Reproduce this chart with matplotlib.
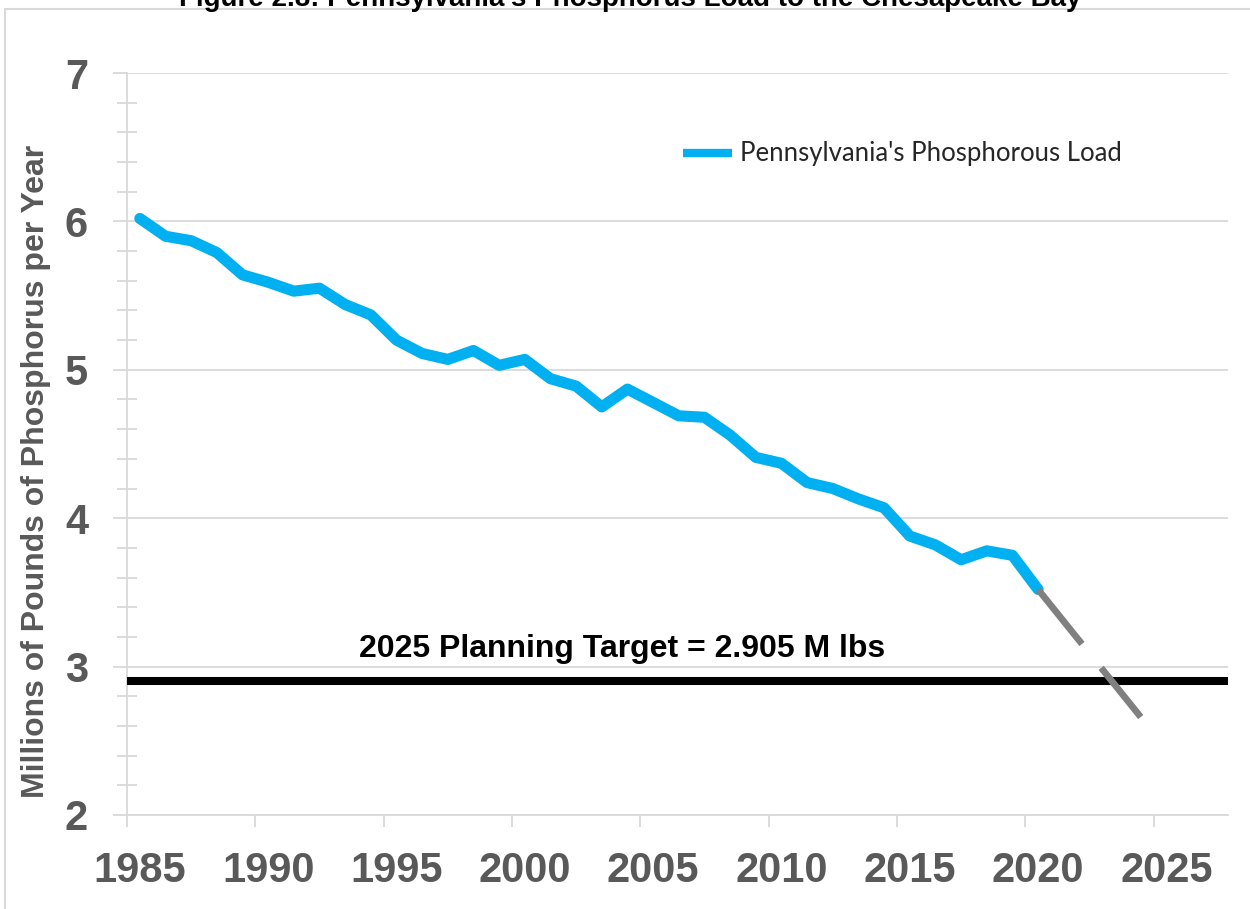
import matplotlib
matplotlib.use("Agg")
import matplotlib.pyplot as plt
from matplotlib.patches import Rectangle
import numpy as np

# Pennsylvania phosphorus load, millions of lbs per year
years = list(range(1985, 2021))
load = [6.02, 5.90, 5.87, 5.79, 5.64, 5.59, 5.53, 5.55, 5.44, 5.37,
        5.20, 5.11, 5.07, 5.13, 5.03, 5.07, 4.94, 4.89, 4.75, 4.87,
        4.78, 4.69, 4.68, 4.56, 4.41, 4.37, 4.24, 4.20, 4.13, 4.07,
        3.88, 3.82, 3.72, 3.78, 3.75, 3.52]

# projection (dashed gray)
proj_years = [2020, 2024]
proj_load = [3.52, 2.66]

target = 2.905
label_years = [1985, 1990, 1995, 2000, 2005, 2010, 2015, 2020, 2025]

plt.rcParams['font.family'] = ['Liberation Sans', 'DejaVu Sans']
grid_c = '#d9d9d9'
text_c = '#595959'

fig = plt.figure(figsize=(12.5, 9.09), dpi=100)
ax = fig.add_axes([127/1250, 1 - 815/909, 1101/1250, 742/909])

ax.axhline(target, color='black', lw=5.8, zorder=3)
ax.plot(years, load, color='#00B0F0', lw=8, solid_capstyle='round',
        solid_joinstyle='round', zorder=4, label="Pennsylvania's Phosphorous Load")
ax.plot(proj_years, proj_load, color='#808080', lw=4.8, dashes=(10.5, 4.6),
        dash_capstyle='butt', zorder=5)

ax.text(2003.8, 3.065, '2025 Planning Target = 2.905 M lbs', ha='center',
        va='baseline', fontsize=23, fontweight='bold', color='black')

ax.set_xlim(1984.5, 2027.4)
ax.set_ylim(2, 7)

# y axis
ax.set_yticks(range(2, 8))
ax.set_yticks(np.arange(2, 7.01, 0.2), minor=True)
ax.yaxis.grid(True, which='major', color=grid_c, lw=1.3)
ax.tick_params(axis='y', which='major', direction='out', length=10, width=1.3,
               color=grid_c, labelsize=30, labelcolor=text_c, pad=18)
ax.tick_params(axis='y', which='minor', direction='inout', length=14, width=1.3,
               color=grid_c)
for t in ax.get_yticklabels():
    t.set_fontweight('bold')

# x axis: labels at category centres, tick marks at category boundaries
ax.set_xticks(label_years)
ax.set_xticklabels([str(y) for y in label_years])
ax.set_xticks([y - 0.5 for y in label_years], minor=True)
ax.tick_params(axis='x', which='major', length=0, labelsize=30,
               labelcolor=text_c, pad=26)
ax.tick_params(axis='x', which='minor', direction='out', length=8.6, width=1.3,
               color=grid_c)
for t in ax.get_xticklabels():
    t.set_fontweight('bold')

for s in ['top', 'right']:
    ax.spines[s].set_visible(False)
for s in ['left', 'bottom']:
    ax.spines[s].set_color(grid_c)
    ax.spines[s].set_linewidth(1.3)
ax.set_axisbelow(True)

fig.text(36/1250, 1 - 471/909, 'Millions of Pounds of Phosphorus per Year',
         rotation=90, ha='center', va='center', fontsize=23, fontweight='bold',
         color=text_c)

leg = ax.legend(loc='center left', bbox_to_anchor=(683/1250, 1 - 154/909),
                bbox_transform=fig.transFigure, frameon=False, borderpad=0,
                borderaxespad=0, handlelength=1.9, handletextpad=0.32,
                prop={'family': 'Lato', 'size': 18.5})
for t in leg.get_texts():
    t.set_color('#262626')
leg.get_lines()[0].set_linewidth(6)
leg.get_lines()[0].set_solid_capstyle('butt')

fig.text(630/1250, 1 - 6/909,
         "Figure 2.8: Pennsylvania's Phosphorus Load to the Chesapeake Bay",
         ha='center', va='baseline', fontsize=20, fontweight='bold', color='black')

fig.patches.append(Rectangle((5/1250, -0.1), 1.2, 1.1 - 9/909, fill=False,
                             edgecolor=grid_c, lw=1.5, transform=fig.transFigure))

fig.savefig('out.png', dpi=100)
